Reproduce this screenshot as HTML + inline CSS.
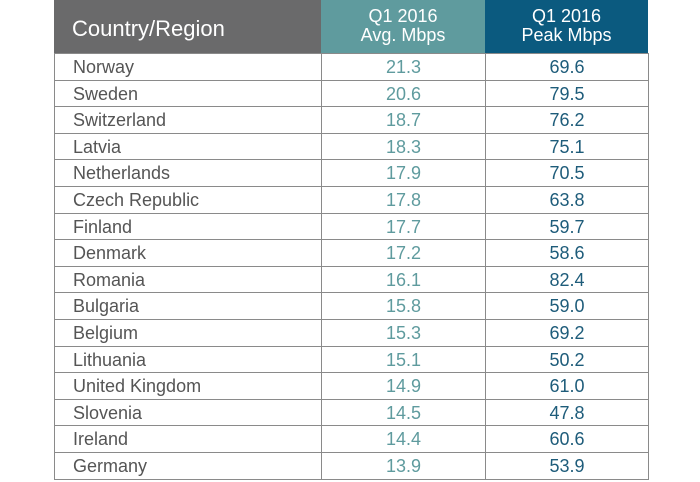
<!DOCTYPE html>
<html><head><meta charset="utf-8">
<style>
body{margin:0;width:700px;height:482px;background:#fff;overflow:hidden;font-family:"Liberation Sans",sans-serif;}
#t{position:absolute;left:0;top:0;width:700px;height:482px;}
.h{position:absolute;top:0;height:53px;color:#fff;}
.c{position:absolute;box-sizing:border-box;font-size:18px;line-height:26px;}
</style></head><body>
<div id="t">
<div class="h" style="left:54px;width:267px;background:#6a6a6b;font-size:22px;line-height:58px;padding-left:18px;box-sizing:border-box;">Country/Region</div>
<div class="h" style="left:321px;width:164px;background:#5f9b9e;font-size:18px;line-height:19px;text-align:center;padding-top:7px;box-sizing:border-box;">Q1 2016<br>Avg. Mbps</div>
<div class="h" style="left:485px;width:163px;background:#0b5a7f;font-size:18px;line-height:19px;text-align:center;padding-top:7px;box-sizing:border-box;">Q1 2016<br>Peak Mbps</div>
</div>
<script>
const countries=["Norway","Sweden","Switzerland","Latvia","Netherlands","Czech Republic","Finland","Denmark","Romania","Bulgaria","Belgium","Lithuania","United Kingdom","Slovenia","Ireland","Germany"];
const avgMbps=["21.3","20.6","18.7","18.3","17.9","17.8","17.7","17.2","16.1","15.8","15.3","15.1","14.9","14.5","14.4","13.9"];
const peakMbps=["69.6","79.5","76.2","75.1","70.5","63.8","59.7","58.6","82.4","59.0","69.2","50.2","61.0","47.8","60.6","53.9"];
const t=document.getElementById('t');
const top0=53, rh=26.6;
const cols=[{x:54,w:267,align:'left',pad:18,color:'#555'},{x:321,w:164,align:'center',pad:0,color:'#5f9b9e'},{x:485,w:163,align:'center',pad:0,color:'#1e5c7a'}];
countries.forEach((c,i)=>{
  const vals=[c,avgMbps[i],peakMbps[i]];
  vals.forEach((v,j)=>{
    const d=document.createElement('div');
    d.className='c';
    
    
    const co=cols[j];
    d.style.left=co.x+'px';d.style.width=(co.w+1)+'px';
    d.style.top=(top0+i*rh)+'px';d.style.height=(rh+1)+'px';
    d.style.textAlign=co.align;d.style.paddingLeft=co.pad+'px';d.style.color=co.color;
    d.style.border='1px solid #8a8a8a';
    d.textContent=v;
    t.appendChild(d);
  });
});
</script>
</body></html>
